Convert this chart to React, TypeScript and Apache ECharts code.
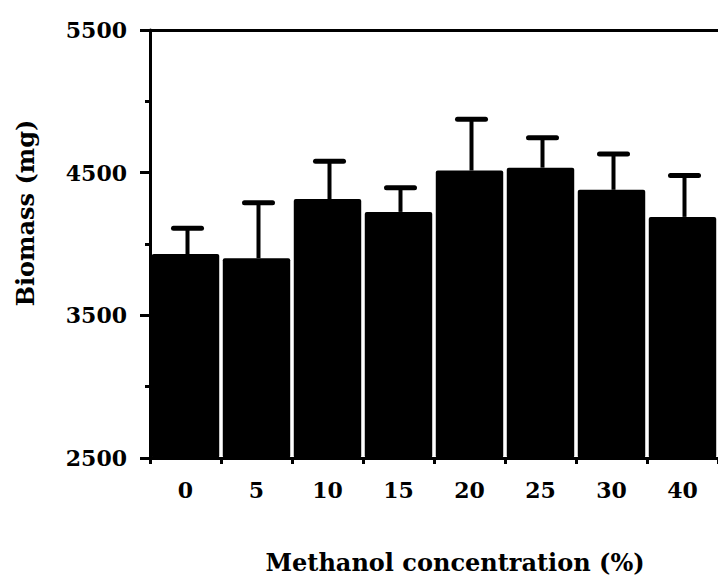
import React, { useEffect, useRef } from "react";
import * as echarts from "echarts";

const categories = ["0", "5", "10", "15", "20", "25", "30", "40"];
const biomass = [3930, 3900, 4315, 4225, 4515, 4535, 4380, 4190];
const errorTop = [4110, 4290, 4580, 4395, 4875, 4745, 4630, 4480];
const yTicks = [2500, 3500, 4500, 5500];

const FONT = "'DejaVu Serif', 'Liberation Serif', serif";

export default function App() {
  const ref = useRef<HTMLDivElement>(null);
  useEffect(() => {
    document.body.style.margin = "0";
    if (!ref.current) return;
    const chart = echarts.init(ref.current, undefined, { renderer: "svg" });
    const errData = categories.map((_, i) => [i, biomass[i], errorTop[i]]);
    chart.setOption({
      animation: false,
      backgroundColor: "#ffffff",
      grid: { left: 150, top: 30, width: 571, height: 428 },
      xAxis: [
        {
          type: "category",
          data: categories,
          boundaryGap: true,
          axisLine: { lineStyle: { color: "#000", width: 3 } },
          axisTick: { show: true, length: 6, lineStyle: { color: "#000", width: 3 } },
          axisLabel: {
            color: "#000",
            fontFamily: FONT,
            fontWeight: "bold",
            fontSize: 22,
            margin: 21,
          },
          splitLine: { show: false },
        },
        {
          type: "category",
          data: categories,
          position: "top",
          axisLine: { show: true, lineStyle: { color: "#000", width: 3 } },
          axisTick: { show: false },
          axisLabel: { show: false },
        },
      ],
      yAxis: {
        type: "value",
        min: 2500,
        max: 5500,
        interval: 1000,
        axisLine: { show: true, lineStyle: { color: "#000", width: 3 } },
        axisTick: { show: true, length: 10, lineStyle: { color: "#000", width: 3 } },
        minorTick: { show: true, splitNumber: 2, length: 5, lineStyle: { color: "#000", width: 3 } },
        splitLine: { show: false },
        axisLabel: {
          color: "#000",
          fontFamily: FONT,
          fontWeight: "bold",
          fontSize: 22,
          margin: 23,
          formatter: (v: number) => (yTicks.includes(v) ? String(v) : ""),
        },
      },
      series: [
        {
          type: "bar",
          data: biomass,
          barCategoryGap: "5%",
          itemStyle: { color: "#000", borderRadius: 2 },
          z: 2,
        },
        {
          type: "custom",
          data: errData,
          z: 3,
          renderItem: (params: any, api: any) => {
            const i = api.value(0);
            const lo = api.coord([i, api.value(1)]);
            const hi = api.coord([i, api.value(2)]);
            const cx = lo[0] + 2;
            const half = 14;
            return {
              type: "group",
              children: [
                {
                  type: "line",
                  shape: { x1: cx, y1: lo[1], x2: cx, y2: hi[1] },
                  style: { stroke: "#000", lineWidth: 4 },
                },
                {
                  type: "line",
                  shape: { x1: cx - half, y1: hi[1], x2: cx + half, y2: hi[1] },
                  style: { stroke: "#000", lineWidth: 5, lineCap: "round" },
                },
              ],
            };
          },
        },
      ],
      graphic: [
        {
          type: "text",
          x: 455,
          y: 562,
          style: {
            text: "Methanol concentration (%)",
            font: `bold 24px ${FONT}`,
            fill: "#000",
            align: "center",
            verticalAlign: "middle",
          },
        },
        {
          type: "text",
          x: 25,
          y: 213,
          rotation: Math.PI / 2,
          style: {
            text: "Biomass (mg)",
            font: `bold 24px ${FONT}`,
            fill: "#000",
            align: "center",
            verticalAlign: "middle",
          },
        },
      ],
    });
    return () => chart.dispose();
  }, []);
  return <div ref={ref} style={{ width: 718, height: 584 }} />;
}
